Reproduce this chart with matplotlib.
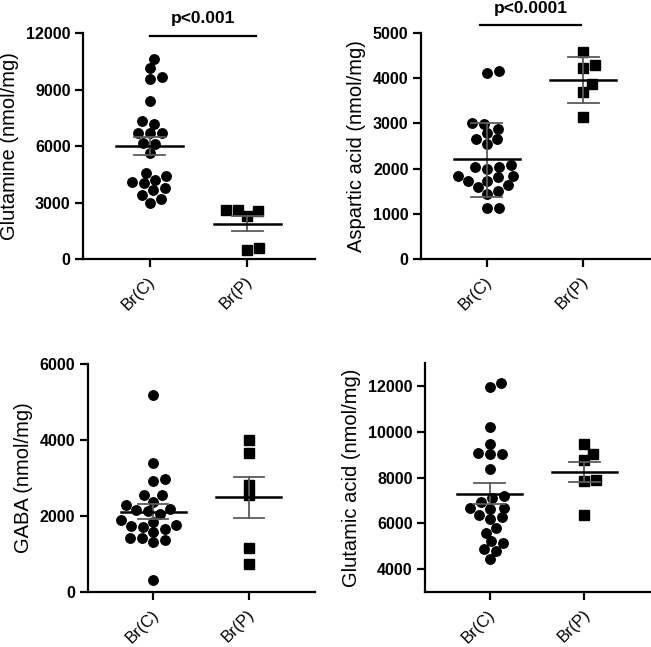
import numpy as np
import matplotlib
matplotlib.use("Agg")
import matplotlib.pyplot as plt
from matplotlib.transforms import ScaledTranslation

plt.rcParams['font.family'] = ['Liberation Sans', 'DejaVu Sans']

groups = ["Br(C)", "Br(P)"]

# Glutamine
glutamine_c = [10615, 10136, 9550, 9639, 8414, 7154, 7349, 6675, 6675, 6675, 6178, 6107,
               5645, 4544, 4402, 4012, 4189, 4101, 3746, 3657, 3408, 3195, 3000]
glutamine_p = [2627, 2556, 2272, 2627, 604, 462]
glutamine_mean = [6000, 1870]
glutamine_lo = [5510, 1470]
glutamine_hi = [6480, 2280]

# Aspartic acid
aspartic_c = [4157, 4112, 3003, 2988, 2870, 2781, 2648, 2648, 2544, 2041, 2027, 2071, 1997,
              1820, 1834, 1834, 1716, 1716, 1642, 1583, 1509, 1435, 1124, 1139]
aspartic_p = [4571, 4290, 4216, 3861, 3698, 3151]
aspartic_mean = [2210, 3965]
aspartic_lo = [1380, 3460]
aspartic_hi = [3010, 4470]

# GABA
gaba_c = [5182, 3405, 2930, 2965, 2543, 2543, 2367, 2279, 2191, 2138, 2155, 2050, 1891,
          1768, 1733, 1839, 1698, 1645, 1416, 1416, 1364, 1575, 1311, 326]
gaba_p = [4003, 3669, 2824, 2543, 1170, 748]
gaba_mean = [2110, 2490]
gaba_lo = [1920, 1960]
gaba_hi = [2310, 3030]

# Glutamic acid
glutamic_c = [12131, 11956, 10204, 9474, 9036, 9066, 9036, 8365, 7197, 6934, 6672, 7109,
              6642, 6672, 6380, 6263, 6175, 5796, 5591, 5212, 5124, 4861, 4774, 4423]
glutamic_p = [9474, 9036, 8745, 7869, 7854, 6350]
glutamic_mean = [7300, 8220]
glutamic_lo = [6860, 7790]
glutamic_hi = [7760, 8680]

panels = [
    dict(label="Glutamine (nmol/mg)", c=glutamine_c, p=glutamine_p, mean=glutamine_mean,
         lo=glutamine_lo, hi=glutamine_hi, ylim=(0, 12000), ticks=[0, 3000, 6000, 9000, 12000],
         pos=[83, 33, 315, 259], sig="p<0.001", sig_y=11850, sig_x=(0.0, 1.09), sig_ty=12350),
    dict(label="Aspartic acid (nmol/mg)", c=aspartic_c, p=aspartic_p, mean=aspartic_mean,
         lo=aspartic_lo, hi=aspartic_hi, ylim=(0, 5000), ticks=[0, 1000, 2000, 3000, 4000, 5000],
         pos=[421, 33, 650, 259], sig="p<0.0001", sig_y=5177, sig_x=(-0.07, 0.98), sig_ty=5380),
    dict(label="GABA (nmol/mg)", c=gaba_c, p=gaba_p, mean=gaba_mean,
         lo=gaba_lo, hi=gaba_hi, ylim=(0, 6000), ticks=[0, 2000, 4000, 6000],
         pos=[88, 364, 315, 592], sig=None),
    dict(label="Glutamic acid (nmol/mg)", c=glutamic_c, p=glutamic_p, mean=glutamic_mean,
         lo=glutamic_lo, hi=glutamic_hi, ylim=(3000, 13000), ticks=[4000, 6000, 8000, 10000, 12000],
         pos=[425, 363, 650, 592], sig=None),
]

W, H = 651, 647
fig = plt.figure(figsize=(W / 100, H / 100), dpi=100)


def swarm_offsets(ax, xc, vals, ax_px, ay_px):
    pts = ax.transData.transform(np.column_stack([np.full(len(vals), xc), vals]))
    ys = pts[:, 1]
    order = np.argsort(ys)
    placed = []
    offs = np.zeros(len(vals))
    for i in order:
        y = ys[i]
        best = None
        for k in range(0, 400):
            cands = [0.0] if k == 0 else [k * 0.5, -k * 0.5]
            for off in cands:
                if all(((off - px) / ax_px) ** 2 + ((y - py) / ay_px) ** 2 >= 1.0 for px, py in placed):
                    best = off
                    break
            if best is not None:
                break
        placed.append((best, y))
        offs[i] = best
    x0 = ax.transData.transform((0, 0))[0]
    x1 = ax.transData.transform((1, 0))[0]
    return offs / (x1 - x0)


for pn in panels:
    l, t, r, b = pn["pos"]
    ax = fig.add_axes([l / W, 1 - b / H, (r - l) / W, (b - t) / H])
    ax.set_xlim(-0.68, 1.69)
    ax.set_ylim(*pn["ylim"])
    for s in ["top", "right"]:
        ax.spines[s].set_visible(False)
    for s in ["left", "bottom"]:
        ax.spines[s].set_linewidth(1.6)
    ax.tick_params(width=1.6, length=5.5, direction="out")
    ax.tick_params(axis="x", pad=9)
    ax.set_yticks(pn["ticks"])
    ax.set_yticklabels([str(v) for v in pn["ticks"]], fontweight="bold", fontsize=11.5)
    ax.set_xticks([0, 1])
    ax.set_xticklabels(groups, rotation=45, ha="right", va="center",
                       rotation_mode="anchor", fontsize=12)
    shift = ScaledTranslation(3 / 100, 0, fig.dpi_scale_trans)
    for lab in ax.get_xticklabels():
        lab.set_transform(lab.get_transform() + shift)
    ax.set_ylabel(pn["label"], fontsize=14.5, labelpad=5)

    dpx_c = swarm_offsets(ax, 0, np.array(pn["c"], float), 12.0, 9.5)
    dpx_p = swarm_offsets(ax, 1, np.array(pn["p"], float), 12.0, 10.0)
    ax.plot(0 + dpx_c, pn["c"], "o", color="black", ms=6.8, mec="black", zorder=3, clip_on=False)
    ax.plot(1 + dpx_p, pn["p"], "s", color="black", ms=6.8, mec="black", zorder=3, clip_on=False)

    for xi in range(2):
        ax.plot([xi, xi], [pn["lo"][xi], pn["hi"][xi]], color="#5a5a5a", lw=1.3, zorder=4)
        for yv in (pn["lo"][xi], pn["hi"][xi]):
            ax.plot([xi - 0.16, xi + 0.16], [yv, yv], color="#5a5a5a", lw=1.3, zorder=4)
        ax.plot([xi - 0.34, xi + 0.34], [pn["mean"][xi]] * 2, color="black", lw=1.8, zorder=5)

    if pn["sig"]:
        ax.plot(pn["sig_x"], [pn["sig_y"]] * 2, color="black", lw=1.6, clip_on=False)
        ax.text(np.mean(pn["sig_x"]), pn["sig_ty"], pn["sig"], ha="center", va="bottom",
                fontsize=12.5, fontweight="bold")

fig.savefig("out.png", dpi=100)
